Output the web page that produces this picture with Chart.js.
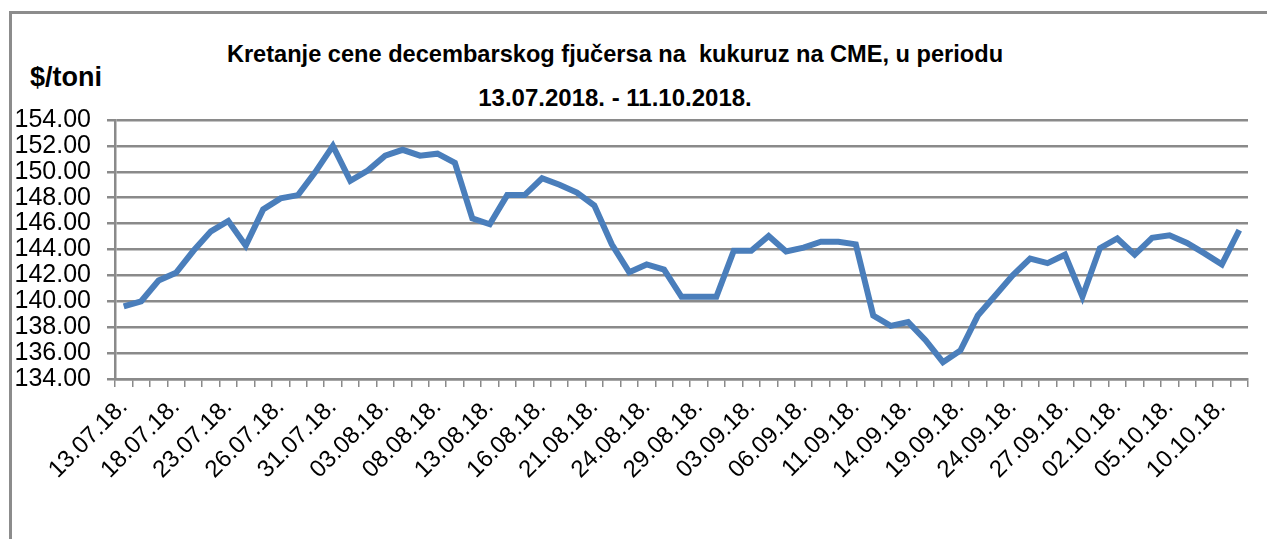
<!DOCTYPE html>
<html>
<head>
<meta charset="utf-8">
<script src="https://cdn.jsdelivr.net/npm/chart.js@4.4.1/dist/chart.umd.min.js"></script>
<style>
  body { margin:0; background:#fff; }
  #wrap { position:relative; width:1267px; height:539px; overflow:hidden; }
  #frame { position:absolute; left:9px; top:11px; width:1300px; height:600px;
    border:3px solid #8c8c8c; box-sizing:border-box; }
  .ttl { position:absolute; left:0; width:1230px; text-align:center;
    font-family:"Liberation Sans", Arial, sans-serif; font-weight:bold; color:#000;
    white-space:pre; }
  #unit { position:absolute; left:30px; top:62px;
    font-family:"Liberation Sans", Arial, sans-serif; font-weight:bold; font-size:27px; color:#000; }
  #cv { position:absolute; left:0; top:0; }
</style>
</head>
<body>
<div id="wrap">
  <div id="frame"></div>
  <div class="ttl" style="top:41px;font-size:23.6px">Kretanje cene decembarskog fjučersa na  kukuruz na CME, u periodu</div>
  <div class="ttl" style="top:84px;font-size:24px">13.07.2018. - 11.10.2018.</div>
  <div id="unit">$/toni</div>
  <canvas id="cv" width="1267" height="539"></canvas>
</div>
<script>
// trading days, 13.07.2018 - 11.10.2018
const dates = [
  '13.07.18.','16.07.18.','17.07.18.','18.07.18.','19.07.18.','20.07.18.',
  '23.07.18.','24.07.18.','25.07.18.','26.07.18.','27.07.18.','30.07.18.',
  '31.07.18.','01.08.18.','02.08.18.','03.08.18.','06.08.18.','07.08.18.',
  '08.08.18.','09.08.18.','10.08.18.','13.08.18.','14.08.18.','15.08.18.',
  '16.08.18.','17.08.18.','20.08.18.','21.08.18.','22.08.18.','23.08.18.',
  '24.08.18.','27.08.18.','28.08.18.','29.08.18.','30.08.18.','31.08.18.',
  '03.09.18.','04.09.18.','05.09.18.','06.09.18.','07.09.18.','10.09.18.',
  '11.09.18.','12.09.18.','13.09.18.','14.09.18.','17.09.18.','18.09.18.',
  '19.09.18.','20.09.18.','21.09.18.','24.09.18.','25.09.18.','26.09.18.',
  '27.09.18.','28.09.18.','01.10.18.','02.10.18.','03.10.18.','04.10.18.',
  '05.10.18.','08.10.18.','09.10.18.','10.10.18.','11.10.18.'
];

// $/ton, December corn futures (CME)
const prices = [
  139.6, 140.0, 141.6, 142.2, 143.9, 145.4, 146.2, 144.3, 147.1, 147.95,
  148.2, 150.0, 152.0, 149.3, 150.1, 151.25, 151.7, 151.25, 151.4, 150.7,
  146.4, 145.95, 148.2, 148.2, 149.5, 149.0, 148.4, 147.4, 144.4, 142.25,
  142.85, 142.45, 140.35, 140.35, 140.35, 143.9, 143.9, 145.05, 143.85, 144.15,
  144.6, 144.6, 144.4, 138.9, 138.1, 138.4, 137.0, 135.3, 136.2, 138.9,
  140.45, 142.0, 143.3, 142.95, 143.6, 140.35, 144.1, 144.85, 143.6, 144.9,
  145.1, 144.5, 143.7, 142.85, 145.5
];

const yMin = 134, yMax = 154, yStep = 2;
const labelEvery = 3;

const GRID = '#8a8a8a';

new Chart(document.getElementById('cv'), {
  type: 'line',
  data: {
    labels: dates,
    datasets: [{
      data: prices,
      borderColor: '#4a7ebb',
      borderWidth: 6,
      pointRadius: 0,
      tension: 0,
      fill: false
    }]
  },
  options: {
    responsive: false,
    animation: false,
    layout: { padding: { left: 0, right: 19, top: 120, bottom: 0 } },
    plugins: { legend: { display: false }, tooltip: { enabled: false } },
    scales: {
      x: {
        offset: true,
        grid: { offset: true, drawOnChartArea: false, drawTicks: true,
                tickLength: 8, color: GRID, lineWidth: 1.5 },
        border: { color: GRID, width: 2.5 },
        ticks: {
          autoSkip: false, maxRotation: 45, minRotation: 45,
          color: '#000', padding: 6,
          font: { family: 'Liberation Sans', size: 24 },
          callback: (v, i) => i % labelEvery === 0 ? dates[i] : ''
        },
        afterFit: s => { s.height = 160; }
      },
      y: {
        min: yMin, max: yMax,
        grid: { color: GRID, lineWidth: 2.5, tickLength: 8 },
        border: { color: GRID, width: 2.5 },
        ticks: {
          stepSize: yStep, autoSkip: false, color: '#000', padding: 16,
          font: { family: 'Liberation Sans', size: 25 },
          callback: v => v.toFixed(2)
        },
        afterFit: s => { s.width = 115; }
      }
    }
  }
});
</script>
</body>
</html>
